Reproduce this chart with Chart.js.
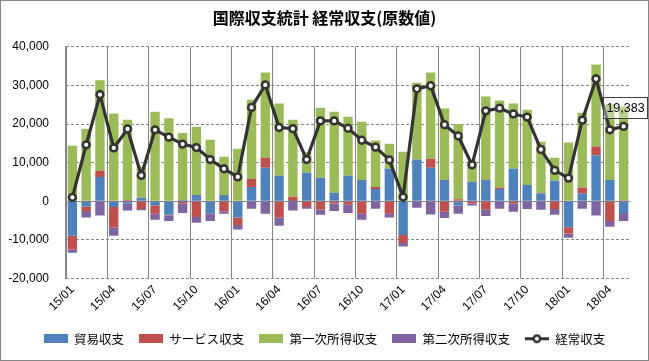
<!DOCTYPE html>
<html>
<head>
<meta charset="utf-8">
<script src="https://cdn.jsdelivr.net/npm/chart.js@4/dist/chart.umd.min.js"></script>
<style>
html,body{margin:0;padding:0;background:#fff;}
#wrap{width:649px;height:361px;position:relative;}
</style>
</head>
<body>
<div id="wrap"><canvas id="c" width="649" height="361"></canvas></div>
<script>
// ---- data (億円) ----
const categories = ['15/01','15/02','15/03','15/04','15/05','15/06','15/07','15/08','15/09','15/10','15/11','15/12',
  '16/01','16/02','16/03','16/04','16/05','16/06','16/07','16/08','16/09','16/10','16/11','16/12',
  '17/01','17/02','17/03','17/04','17/05','17/06','17/07','17/08','17/09','17/10','17/11','17/12',
  '18/01','18/02','18/03','18/04','18/05'];
const tradeBalance = [-8900,-1400,6300,-1500,-600,900,-1100,-3500,350,1650,-3200,1650,
  -4200,3700,8700,6600,100,7400,6100,2200,6600,5500,3200,8400,
  -8700,10800,8700,5500,-1100,5000,5500,3200,8400,4200,2000,5300,
  -6700,2000,11900,5500,-3000];
const serviceBalance = [-3600,-1100,1600,-5300,350,-2000,-2100,-200,-600,-4050,-100,-2600,
  -1900,2100,2600,-4200,1100,-1500,-2100,-600,-900,-3200,500,-3200,
  -2100,-100,2300,-2700,500,-600,-2200,350,-600,-100,200,-2000,
  -1600,1600,2300,-5100,300];
const primaryIncome = [14400,18800,23400,22700,20750,8100,23200,21500,17350,17650,15900,9850,
  13600,20500,22000,18700,19900,5300,18100,21000,15300,15100,12000,6500,
  12800,19900,22300,18500,19500,5500,21600,22500,16900,19500,13200,6000,
  15200,19300,21200,19600,24200];
const secondaryIncome = [-800,-1700,-3700,-2100,-1800,-300,-1600,-1400,-2400,-1500,-1800,-600,
  -1200,-1900,-3200,-2100,-2400,-400,-1400,-1900,-2100,-1600,-1900,-1000,
  -900,-1600,-3400,-1600,-2100,-500,-1600,-1900,-2100,-1900,-2200,-1500,
  -1100,-1900,-3700,-1500,-2100];
const currentAccount = [1000,14600,27600,13800,18700,6700,18500,16600,14800,13900,10800,8400,
  6300,24300,30100,19100,18800,10800,20800,20800,18900,15800,14000,10700,
  1100,29100,29900,19800,16900,9400,23400,24100,22600,21800,13400,8000,
  6000,21000,31700,18500,19383];
const yTicks = [-20000,-10000,0,10000,20000,30000,40000];
const seriesNames = ['貿易収支','サービス収支','第一次所得収支','第二次所得収支','経常収支'];
const titleText = '国際収支統計 経常収支(原数値)';

const colors = ['#4f81bd','#c0504d','#9bbb59','#8064a2'];
const lineColor = '#333333';
const gridColor = '#868686';

function rectIcon(color){
  const c = document.createElement('canvas'); c.width = 24; c.height = 9;
  const g = c.getContext('2d'); g.fillStyle = color; g.fillRect(0,0,24,9); return c;
}
function lineIcon(){
  const c = document.createElement('canvas'); c.width = 24; c.height = 11;
  const g = c.getContext('2d');
  g.strokeStyle = lineColor; g.lineWidth = 3;
  g.beginPath(); g.moveTo(0,5.5); g.lineTo(24,5.5); g.stroke();
  g.beginPath(); g.arc(12,5.5,3.3,0,Math.PI*2); g.fillStyle='#fff'; g.fill();
  g.lineWidth = 2.4; g.stroke();
  return c;
}
const icons = [rectIcon(colors[0]),rectIcon(colors[1]),rectIcon(colors[2]),rectIcon(colors[3]),lineIcon()];

const framePlugin = {
  id:'frame',
  beforeDraw(chart){
    const ctx = chart.ctx;
    ctx.save();
    ctx.fillStyle = '#fff'; ctx.fillRect(0,0,chart.width,chart.height);
    ctx.strokeStyle = gridColor; ctx.lineWidth = 1;
    ctx.strokeRect(0.5,0.5,chart.width-1,chart.height-1);
    ctx.restore();
  }
};
// vertical separators every 3 months (category boundaries)
const vGridPlugin = {
  id:'vgrid',
  beforeDatasetsDraw(chart){
    const ctx = chart.ctx, xs = chart.scales.x, area = chart.chartArea;
    const half = (xs.getPixelForValue(1) - xs.getPixelForValue(0)) / 2;
    ctx.save();
    ctx.strokeStyle = gridColor; ctx.lineWidth = 1;
    for (let i = 0; i < categories.length; i += 3) {
      const x = Math.round(xs.getPixelForValue(i) - half) + 0.5;
      ctx.beginPath(); ctx.moveTo(x, area.top); ctx.lineTo(x, area.bottom); ctx.stroke();
    }
    ctx.restore();
  }
};
const lastLabelPlugin = {
  id:'lastLabel',
  afterDatasetsDraw(chart){
    const ctx = chart.ctx;
    const idx = currentAccount.length - 1;
    const pt = chart.getDatasetMeta(4).data[idx];
    const txt = currentAccount[idx].toLocaleString('en-US');
    ctx.save();
    ctx.font = '12.5px "Liberation Sans", Arial, sans-serif';
    const w = Math.round(ctx.measureText(txt).width + 6);
    const h = 21;
    const x = Math.round(pt.x - w/2 + 1) + 0.5;
    const y = Math.round(pt.y - 8 - h) + 0.5;
    ctx.fillStyle = 'rgba(255,255,255,0.35)';
    ctx.fillRect(x,y,w,h);
    ctx.strokeStyle = '#404040'; ctx.lineWidth = 1;
    ctx.strokeRect(x,y,w,h);
    ctx.fillStyle = '#000'; ctx.textAlign = 'center'; ctx.textBaseline = 'middle';
    ctx.fillText(txt, x + w/2, y + h/2 + 0.5);
    ctx.restore();
  }
};

const barDs = (label, data, color) => ({
  type:'bar', label, data, backgroundColor:color, borderWidth:0,
  stack:'bars', order:1, barPercentage:0.68, categoryPercentage:1.0
});

new Chart(document.getElementById('c'), {
  data:{
    labels: categories,
    datasets:[
      barDs(seriesNames[0], tradeBalance, colors[0]),
      barDs(seriesNames[1], serviceBalance, colors[1]),
      barDs(seriesNames[2], primaryIncome, colors[2]),
      barDs(seriesNames[3], secondaryIncome, colors[3]),
      { type:'line', label:seriesNames[4], data:currentAccount, stack:'line', order:0,
        borderColor:lineColor, borderWidth:3.2, tension:0,
        pointRadius:3.4, pointBorderWidth:2.5, pointBackgroundColor:'#fff', pointBorderColor:lineColor,
        pointHoverRadius:3.4 }
    ]
  },
  options:{
    responsive:false, animation:false, devicePixelRatio:1,
    layout:{ padding:{ left:0, right:0, top:0, bottom:6 } },
    plugins:{
      tooltip:{enabled:false},
      title:{ display:true, text:titleText, color:'#000',
        font:{ family:'"Noto Sans CJK JP"', size:16, weight:'bold' },
        padding:{ top:8, bottom:19.5 } },
      legend:{ position:'bottom',
        labels:{ usePointStyle:true, pointStyleWidth:24, padding:15, color:'#000',
          font:{ family:'"Noto Sans CJK JP"', size:12.5 },
          sort:(a,b)=> a.datasetIndex - b.datasetIndex,
          generateLabels(chart){
            const items = Chart.defaults.plugins.legend.labels.generateLabels(chart);
            items.forEach((it)=>{ it.pointStyle = icons[it.datasetIndex]; });
            return items;
          } } }
    },
    scales:{
      x:{ stacked:true, offset:true,
        grid:{ display:false, offset:true, drawTicks:false },
        border:{ display:false },
        ticks:{ autoSkip:false, maxRotation:45, minRotation:45, padding:4, color:'#000',
          font:{ family:'"Liberation Sans", Arial, sans-serif', size:12 },
          callback:function(v,i){ return i % 3 === 0 ? categories[i] : ''; } },
        afterFit(s){ s.height = 38.9; }
      },
      y:{ stacked:true, min:yTicks[0], max:yTicks[yTicks.length-1],
        afterBuildTicks(s){ s.ticks = yTicks.map(v=>({value:v})); },
        grid:{ drawTicks:false, color:gridColor, lineWidth:1 },
        border:{ display:true, color:gridColor, width:1,
          dash:(c)=> (c.tick && c.tick.value === 0 ? [] : [3,2]) },
        ticks:{ padding:16.5, color:'#000',
          font:{ family:'"Liberation Sans", Arial, sans-serif', size:12 },
          callback:(v)=> Number(v).toLocaleString('en-US') },
        afterFit(s){ s.width = 65.5; }
      },
      spacer:{ type:'linear', position:'right', display:true,
        grid:{ display:false, drawTicks:false }, border:{ display:false },
        ticks:{ display:false },
        afterFit(s){ s.width = 18.5; }
      }
    }
  },
  plugins:[framePlugin, vGridPlugin, lastLabelPlugin]
});
</script>
</body>
</html>
